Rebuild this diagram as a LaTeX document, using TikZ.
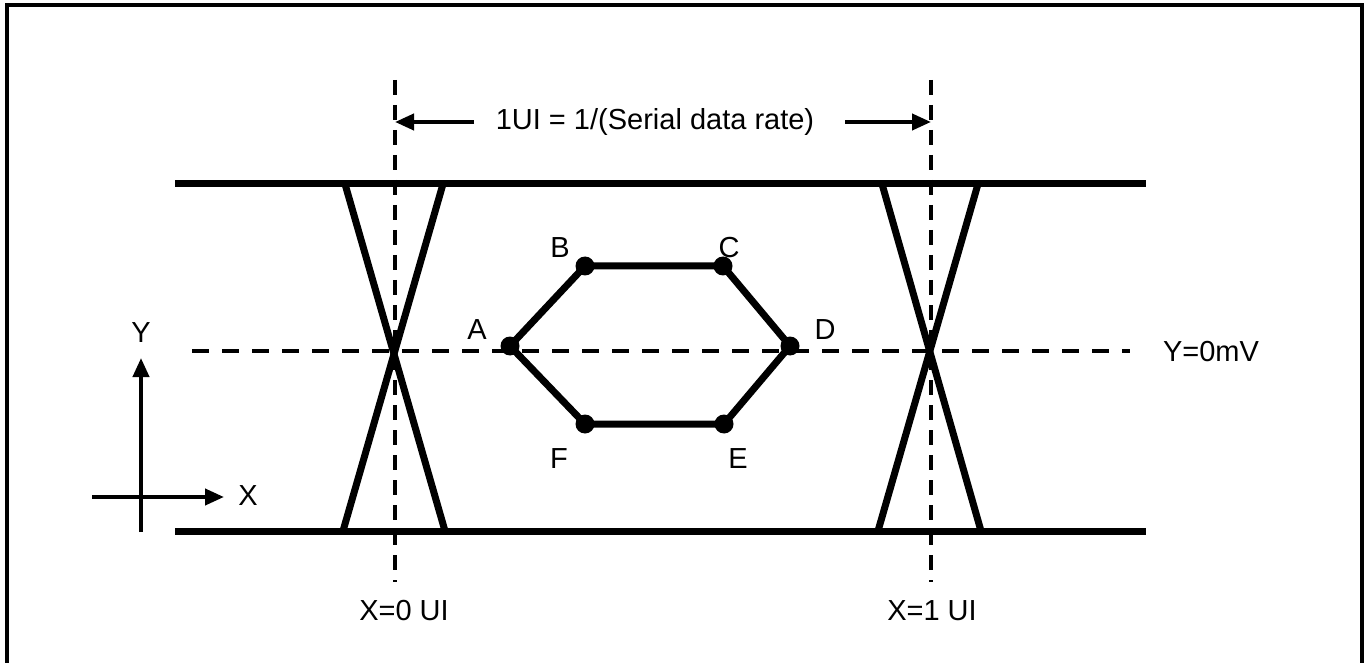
\documentclass[tikz,border=0pt]{standalone}
\usepackage{fontspec}
\setmainfont{Liberation Sans}
\usetikzlibrary{arrows.meta}
\begin{document}
\begin{tikzpicture}[x=1pt,y=-1pt,
  thickline/.style={line width=7pt},
  hdash/.style={line width=4.5pt, dash pattern=on 17pt off 13pt},
  vdash/.style={line width=4.5pt, dash pattern=on 15pt off 10pt},
  dotnode/.style={circle, fill=black, inner sep=0pt, minimum size=19pt},
  lbl/.style={font=\fontsize{29}{34}\selectfont, inner sep=0pt},
  tip/.style={-{Triangle[length=19pt,width=16pt]}, line width=4pt}]
\useasboundingbox (0,0) rectangle (1366,663);
\draw[line width=4pt] (7,5) rectangle (1362,672);

% rails
\coordinate (tl) at (175,184);
\coordinate (tr) at (1146,184);
\coordinate (bl) at (175,531);
\coordinate (br) at (1146,531);
\draw[thickline] (tl) -- (tr);
\draw[thickline] (bl) -- (br);

% zero line
\coordinate (zl) at (192,351);
\coordinate (zr) at (1130,351);
\draw[hdash] (zl) -- (zr);
\node[lbl] (ylab) at (1211,352) {Y=0mV};

% vertical UI lines
\coordinate (v0t) at (395,80);
\coordinate (v0b) at (395,582);
\coordinate (v1t) at (931,80);
\coordinate (v1b) at (931,582);
\draw[vdash] (v0t) -- (v0b);
\draw[vdash] (v1t) -- (v1b);
\node[lbl] (x0) at (404,611) {X=0 UI};
\node[lbl] (x1) at (932,611) {X=1 UI};

% crossings
\coordinate (c0a) at (345,184);
\coordinate (c0b) at (445,531);
\coordinate (c0c) at (443,184);
\coordinate (c0d) at (343,531);
\draw[thickline] (c0a) -- (c0b);
\draw[thickline] (c0c) -- (c0d);
\coordinate (c1a) at (882,184);
\coordinate (c1b) at (981,531);
\coordinate (c1c) at (978,184);
\coordinate (c1d) at (878,531);
\draw[thickline] (c1a) -- (c1b);
\draw[thickline] (c1c) -- (c1d);

% UI dimension
\node[lbl] (ui) at (655,122) {1UI = 1/(Serial data rate)};
\coordinate (ual) at (474,122);
\coordinate (uar) at (845,122);
\draw[tip] (ual) -- (v0t |- ual);
\draw[tip] (uar) -- (v1t |- uar);

% hexagon
\node[dotnode] (A) at (510,346) {};
\node[dotnode] (B) at (585,266) {};
\node[dotnode] (C) at (723,266) {};
\node[dotnode] (D) at (790,346) {};
\node[dotnode] (E) at (724,424) {};
\node[dotnode] (F) at (585,424) {};
\draw[thickline, line join=round] (A.center) -- (B.center) -- (C.center) -- (D.center) -- (E.center) -- (F.center) -- cycle;
\node[lbl] (lA) at (477,330) {A};
\node[lbl] (lB) at (560,248) {B};
\node[lbl] (lC) at (729,248) {C};
\node[lbl] (lD) at (825,330) {D};
\node[lbl] (lE) at (738,459) {E};
\node[lbl] (lF) at (559,459) {F};

% axes
\coordinate (yb) at (141,532);
\coordinate (yt) at (141,358);
\coordinate (xl) at (92,497);
\coordinate (xr) at (224,497);
\draw[tip] (yb) -- (yt);
\draw[tip] (xl) -- (xr);
\node[lbl] (Ylab) at (141,333) {Y};
\node[lbl] (Xlab) at (248,496) {X};
\end{tikzpicture}
\end{document}
